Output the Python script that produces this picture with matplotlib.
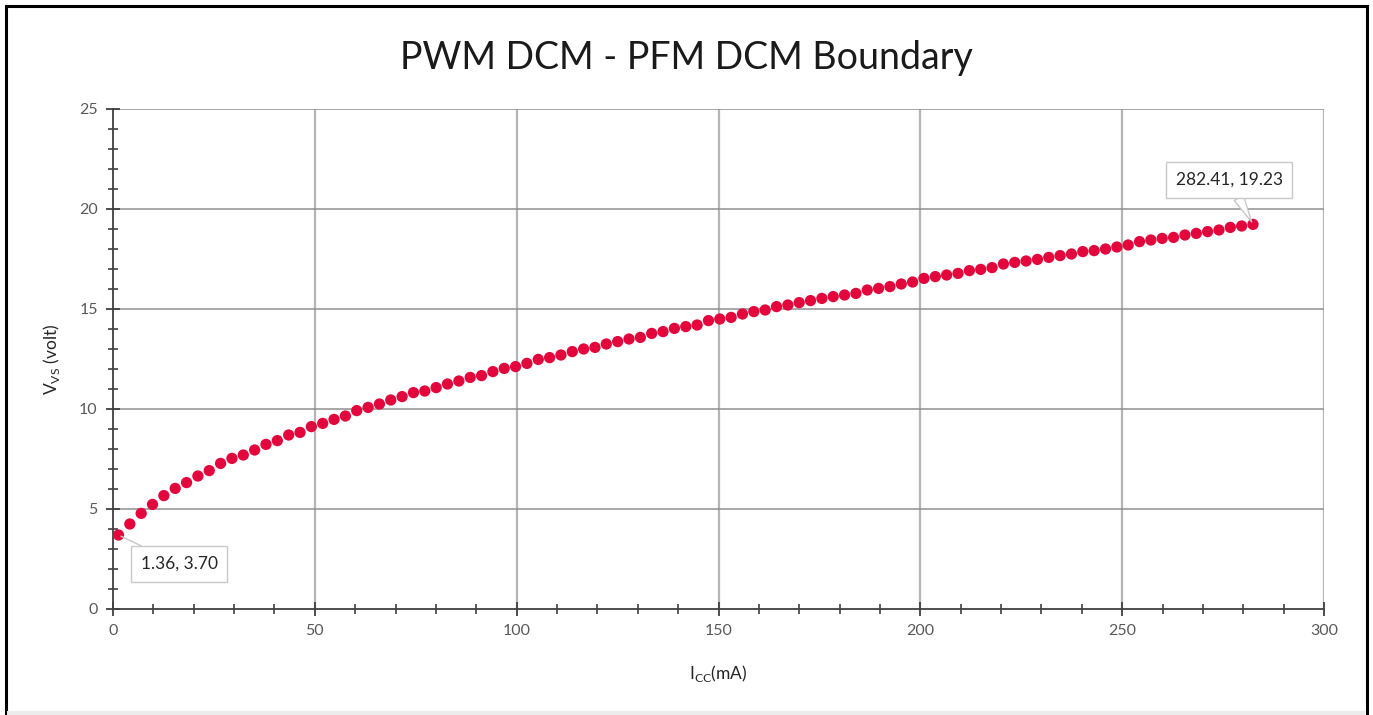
import matplotlib
matplotlib.use("Agg")
import matplotlib.pyplot as plt
from matplotlib.patches import Rectangle
from matplotlib.ticker import MultipleLocator

plt.rcParams['font.family'] = ['Lato', 'DejaVu Sans']

# boundary points: supply current (mA) vs VS voltage (V)
icc_ma = [
    1.36, 4.17, 6.98, 9.79, 12.60, 15.41, 18.22, 21.03, 23.84, 26.65,
    29.47, 32.28, 35.09, 37.90, 40.71, 43.52, 46.33, 49.14, 51.95, 54.76,
    57.57, 60.38, 63.19, 66.00, 68.81, 71.62, 74.43, 77.24, 80.05, 82.86,
    85.68, 88.49, 91.30, 94.11, 96.92, 99.73, 102.54, 105.35, 108.16, 110.97,
    113.78, 116.59, 119.40, 122.21, 125.02, 127.83, 130.64, 133.45, 136.26, 139.07,
    141.89, 144.70, 147.51, 150.32, 153.13, 155.94, 158.75, 161.56, 164.37, 167.18,
    169.99, 172.80, 175.61, 178.42, 181.23, 184.04, 186.85, 189.66, 192.47, 195.28,
    198.09, 200.90, 203.71, 206.52, 209.34, 212.15, 214.96, 217.77, 220.58, 223.39,
    226.20, 229.01, 231.82, 234.63, 237.44, 240.25, 243.06, 245.87, 248.68, 251.49,
    254.30, 257.11, 259.92, 262.73, 265.55, 268.36, 271.17, 273.98, 276.79, 279.60,
    282.41,
]
vvs_volt = [
    3.70, 4.25, 4.78, 5.23, 5.67, 6.03, 6.32, 6.65, 6.92, 7.28,
    7.53, 7.70, 7.95, 8.23, 8.42, 8.70, 8.83, 9.12, 9.28, 9.48,
    9.65, 9.92, 10.08, 10.25, 10.45, 10.62, 10.82, 10.90, 11.07, 11.25,
    11.40, 11.58, 11.67, 11.87, 12.03, 12.12, 12.28, 12.48, 12.57, 12.70,
    12.87, 13.00, 13.08, 13.25, 13.37, 13.50, 13.58, 13.78, 13.87, 14.03,
    14.12, 14.20, 14.42, 14.50, 14.58, 14.75, 14.87, 14.95, 15.12, 15.20,
    15.32, 15.42, 15.53, 15.62, 15.70, 15.78, 15.95, 16.03, 16.12, 16.25,
    16.35, 16.53, 16.62, 16.70, 16.78, 16.92, 16.98, 17.07, 17.25, 17.33,
    17.40, 17.48, 17.58, 17.67, 17.75, 17.87, 17.92, 18.00, 18.10, 18.20,
    18.37, 18.45, 18.53, 18.58, 18.70, 18.78, 18.87, 18.95, 19.08, 19.15,
    19.23,
]

fig = plt.figure(figsize=(13.73, 7.15), dpi=100)

# outer frame (black on three sides) and faint bottom edge
fig.patches.append(Rectangle((5.5 / 1373, -0.05), 1361 / 1373, 1 - 5.5 / 715 + 0.05,
                             transform=fig.transFigure, fill=False,
                             edgecolor='black', linewidth=2.2))
fig.patches.append(Rectangle((7 / 1373, 0), 1358 / 1373, 4 / 715,
                             transform=fig.transFigure, facecolor='#ececec',
                             edgecolor='none'))

ax = fig.add_axes([113 / 1373, 1 - 609 / 715, 1211 / 1373, 500 / 715])

ax.scatter(icc_ma, vvs_volt, s=66, color='#E2063C', edgecolors='none', zorder=3)

ax.set_xlim(0, 300)
ax.set_ylim(0, 25)
ax.xaxis.set_major_locator(MultipleLocator(50))
ax.xaxis.set_minor_locator(MultipleLocator(10))
ax.yaxis.set_major_locator(MultipleLocator(5))
ax.yaxis.set_minor_locator(MultipleLocator(1))

for x in range(50, 301, 50):
    ax.axvline(x, color='#b5b5b5', linewidth=1.6, zorder=1)
for y in range(5, 26, 5):
    ax.axhline(y, color='#8f8f8f', linewidth=1.1, zorder=1)

for side in ('top', 'right'):
    ax.spines[side].set_visible(False)
for side in ('left', 'bottom'):
    ax.spines[side].set_color('#404040')
    ax.spines[side].set_linewidth(1.3)
    ax.spines[side].set_zorder(2)

ax.tick_params(which='major', direction='inout', length=10, width=1.3,
               color='#404040', labelsize=11.5, labelcolor='#595959', pad=6)
ax.tick_params(which='minor', direction='inout', length=7, width=1.2,
               color='#404040')

ax.set_xlabel(r'I$_{\mathregular{CC}}$(mA)', fontsize=12.5, color='#262626', labelpad=18)
ax.set_ylabel(r'V$_{\mathregular{VS}}$ (volt)', fontsize=12.5, color='#262626', labelpad=12)

fig.text(0.5, 1 - 58 / 715, 'PWM DCM - PFM DCM Boundary', ha='center', va='center',
         fontsize=27, color='#1a1a1a')

# data callouts at the first and last points
box = dict(boxstyle='square,pad=0.55', facecolor='white', edgecolor='#c8c8c8', linewidth=1)
ax.annotate(f'{icc_ma[0]:.2f}, {vvs_volt[0]:.2f}', xy=(icc_ma[0], vvs_volt[0]),
            xytext=(16.4, 2.25), ha='center', va='center', fontsize=12.5,
            color='#262626', bbox=box, zorder=4,
            arrowprops=dict(arrowstyle='-', color='#c8c8c8', linewidth=1,
                            shrinkA=0, shrinkB=2))
ax.annotate(f'{icc_ma[-1]:.2f}, {vvs_volt[-1]:.2f}', xy=(icc_ma[-1], vvs_volt[-1]),
            xytext=(276.5, 21.45), ha='center', va='center', fontsize=12.5,
            color='#262626', bbox=box, zorder=4,
            arrowprops=dict(arrowstyle='wedge,tail_width=0.6', facecolor='white',
                            edgecolor='#c8c8c8', linewidth=1, shrinkA=0, shrinkB=2))

fig.savefig('out.png', dpi=100)
